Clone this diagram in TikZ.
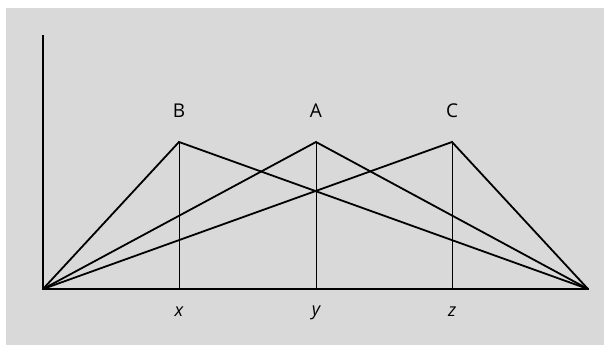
\documentclass[tikz,border=0pt]{standalone}
\usepackage{fontspec}
\setmainfont{Open Sans}
\begin{document}
\begin{tikzpicture}[x=1pt,y=-1pt,
  axis/.style={line width=2.5pt,line cap=rect},
  slant/.style={line width=1.8pt},
  drop/.style={line width=0.9pt},
  lab/.style={font=\fontsize{19}{22}\selectfont,inner sep=0pt},
  tick/.style={font=\fontsize{18}{21}\selectfont\itshape,inner sep=0pt}]
\useasboundingbox (0,0) rectangle (604,345);
\fill[white] (0,0) rectangle (604,345);
\fill[black!15] (6,8) rectangle (604,345);
\coordinate (O) at (43,289);
\coordinate (T) at (43,36);
\coordinate (E) at (588,289);
\coordinate (B) at (179,142);
\coordinate (A) at (316,142);
\coordinate (C) at (452,142);
\coordinate (xb) at (179,289);
\coordinate (yb) at (316,289);
\coordinate (zb) at (452,289);
\draw[drop] (B) -- (xb);
\draw[drop] (A) -- (yb);
\draw[drop] (C) -- (zb);
\draw[slant,line join=miter] (O) -- (B) -- (E);
\draw[slant,line join=miter] (O) -- (A) -- (E);
\draw[slant,line join=miter] (O) -- (C) -- (E);
\draw[axis] (T) -- (O) -- (E);
\node[lab] (lB) at (179,111) {B};
\node[lab] (lA) at (316,111) {A};
\node[lab] (lC) at (452,111) {C};
\node[tick] (lx) at (179,312) {x};
\node[tick] (ly) at (316,313) {y};
\node[tick] (lz) at (452,312) {z};
\end{tikzpicture}
\end{document}
